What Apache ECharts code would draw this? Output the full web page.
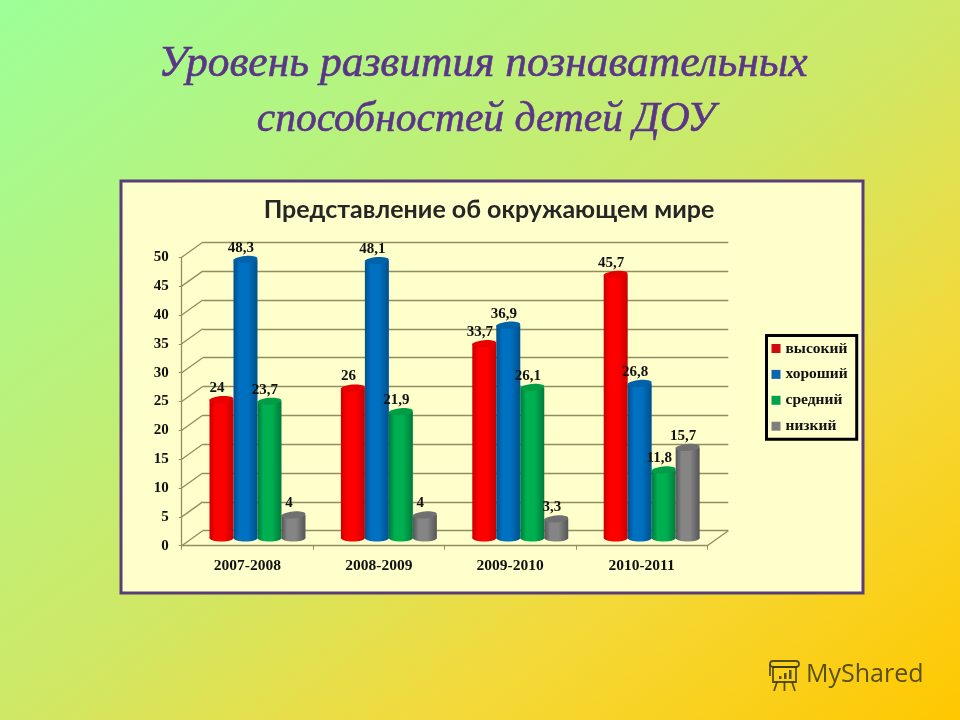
<!DOCTYPE html>
<html><head><meta charset="utf-8">
<style>html,body{margin:0;padding:0;background:#fff}#c{width:960px;height:720px}</style>
<script src="https://cdn.jsdelivr.net/npm/echarts@6/dist/echarts.min.js"></script>
</head><body><div id="c"></div>
<script>
const categories = ['2007-2008','2008-2009','2009-2010','2010-2011'];
const seriesNames = ['высокий','хороший','средний','низкий'];
const high = [24,26,33.7,45.7];
const good = [48.3,48.1,36.9,26.8];
const medium = [23.7,21.9,26.1,11.8];
const low = [4,4,3.3,15.7];
const yTicks = [0,5,10,15,20,25,30,35,40,45,50];
const titleLine1 = 'Уровень развития познавательных';
const titleLine2 = 'способностей детей ДОУ';
const chartTitle = 'Представление об окружающем мире';
const watermark = 'MyShared';

const values = [high,good,medium,low];
const palette = [
  {edge:'#c80000',mid:'#ff0000',top:'#e60000',icon:'#d00a0a'},
  {edge:'#00508c',mid:'#0070c0',top:'#0062a8',icon:'#0a66b0'},
  {edge:'#007a3c',mid:'#00b050',top:'#009c46',icon:'#00a050'},
  {edge:'#555555',mid:'#858585',top:'#707070',icon:'#7f7f7f'}
];
const F = {l:181.7,w:525.6,t:257.3,b:545.7};
const DX = 21, DY = 15;
const mkGrid = (dx,dy)=>({left:F.l+dx,top:F.t-dy,width:F.w,height:F.b-F.t,containLabel:false});
const serif = '"Liberation Serif"';
const num = v => String(v).replace('.',',');
const lineColor = '#8f8d62';
const lineW = 1.3;

function cylinder(si){
  return function(params,api){
    const cat = api.value(0), v = api.value(1);
    const top = api.coord([cat,v]), bot = api.coord([cat,0]);
    const band = api.size([1,0])[0];
    const bw = band*0.1826;
    const cx = top[0] + (si-1.5)*bw;
    const rx = bw/2, ry = 3.5;
    const c = palette[si];
    const grad = () => new echarts.graphic.LinearGradient(0,0,1,0,[
      {offset:0,color:c.edge},{offset:.25,color:c.mid},{offset:.6,color:c.mid},{offset:1,color:c.edge}]);
    return {type:'group',children:[
      {type:'ellipse',shape:{cx:cx,cy:bot[1],rx:rx,ry:ry},style:{fill:grad()}},
      {type:'rect',shape:{x:cx-rx,y:top[1],width:bw,height:bot[1]-top[1]},style:{fill:grad()}},
      {type:'ellipse',shape:{cx:0,cy:0,rx:rx,ry:ry},x:cx,y:top[1],rotation:0.08,style:{fill:c.top}},
      {type:'text',z2:100,x:cx-4.5,y:top[1]-11.5,style:{text:num(v),font:'bold 15px '+serif,fill:'#111',align:'center',verticalAlign:'middle'}}
    ]};
  };
}
function wallLines(params,api){
  const p = api.coord([0,api.value(0)]);
  const xs = p[0]-api.size([1,0])[0]/2;
  return {type:'line',shape:{x1:xs,y1:p[1],x2:xs+DX,y2:p[1]-DY},style:{stroke:lineColor,lineWidth:lineW}};
}
function floorLine(params,api){
  const p = api.coord([categories.length-1,0]);
  const right = p[0]+api.size([1,0])[0]/2;
  return {type:'line',shape:{x1:right,y1:p[1],x2:right+DX,y2:p[1]-DY},style:{stroke:lineColor,lineWidth:lineW}};
}
const ink = 'rgba(60,56,16,.85)';
const inkStroke = {fill:null,stroke:ink,lineWidth:1.8};
const seg = (x1,y1,x2,y2)=>({type:'line',shape:{x1,y1,x2,y2},style:inkStroke});
const logo = {type:'group',z:-5,silent:true,x:768,y:658,children:[
  {type:'rect',shape:{x:2,y:3,width:29,height:6,r:3},style:inkStroke},
  {type:'rect',shape:{x:5,y:9,width:23,height:15},style:inkStroke},
  seg(2,6,2,18), seg(9,24,6,33), seg(16.5,24,16.5,33), seg(24,24,27,33),
  {type:'rect',shape:{x:11,y:18,width:2.5,height:3},style:{fill:ink}},
  {type:'rect',shape:{x:16,y:15,width:2.5,height:6},style:{fill:ink}},
  {type:'rect',shape:{x:21,y:12,width:2.5,height:9},style:{fill:ink}}
]};
const titleStyle = size => ({fontFamily:serif,fontStyle:'italic',fontWeight:'normal',fontSize:size,color:'#5b3688',textBorderColor:'#5b3688',textBorderWidth:0.6});
const option = {
  animation:false,
  backgroundColor:new echarts.graphic.LinearGradient(0,0,0.72,1.28,[
    {offset:0,color:'#9cff98'},{offset:.5,color:'#cfe866'},{offset:.72,color:'#f3da3c'},{offset:1,color:'#ffc800'}]),
  title:[
    {text:titleLine1,left:478,top:38,textAlign:'center',textStyle:titleStyle(43.5)},
    {text:titleLine2,left:481,top:95,textAlign:'center',textStyle:titleStyle(41.5)},
    {text:chartTitle,left:484,top:192,textAlign:'center',textStyle:{fontFamily:'Lato,"Open Sans"',fontWeight:'bold',fontSize:25,color:'#262626'}}
  ],
  graphic:[
    {type:'rect',z:-10,silent:true,shape:{x:121,y:181,width:742,height:412},style:{fill:'#ffffcc',stroke:'#5a3d78',lineWidth:3}},
    {type:'text',z:-5,silent:true,x:806,y:662,style:{text:watermark,font:'25px "Open Sans"',fill:ink}},
    logo
  ],
  legend:{
    data:seriesNames.map((n,i)=>({name:n,icon:'rect',itemStyle:{color:palette[i].icon}})),
    orient:'vertical',left:766.5,top:335.5,padding:[5,9,5,5],itemWidth:9,itemHeight:9,itemGap:9.9,
    borderColor:'#000',borderWidth:3,backgroundColor:'#ffffcc',
    textStyle:{fontFamily:serif,fontWeight:'bold',fontSize:15.5,color:'#111',padding:[0,0,0,0]}
  },
  grid:[mkGrid(0,0),mkGrid(DX,DY),mkGrid(DX*0.48,7.7)],
  xAxis:[
    {type:'category',gridIndex:0,data:categories,axisLine:{lineStyle:{color:lineColor,width:lineW}},axisTick:{show:true,alignWithLabel:false,length:4,lineStyle:{color:lineColor}},axisLabel:{fontFamily:serif,fontWeight:'bold',fontSize:15.5,color:'#111',margin:12,interval:0}},
    {type:'category',gridIndex:1,data:categories,show:false},
    {type:'category',gridIndex:2,data:categories,show:false}
  ],
  yAxis:[
    {type:'value',gridIndex:0,min:0,max:50,interval:5,axisLine:{show:true,lineStyle:{color:lineColor,width:lineW}},axisTick:{show:true,length:3,lineStyle:{color:lineColor}},splitLine:{show:false},axisLabel:{fontFamily:serif,fontWeight:'bold',fontSize:15,color:'#111',margin:13}},
    {type:'value',gridIndex:1,min:0,max:50,interval:5,axisLine:{show:false},axisTick:{show:false},axisLabel:{show:false},splitLine:{show:true,lineStyle:{color:lineColor,width:lineW}}},
    {type:'value',gridIndex:2,min:0,max:50,interval:5,show:false,splitLine:{show:false}}
  ],
  series:[
    {type:'custom',name:'wall',xAxisIndex:0,yAxisIndex:0,silent:true,z:1,renderItem:wallLines,data:yTicks.map(v=>[v])},
    {type:'custom',name:'floor',xAxisIndex:0,yAxisIndex:0,silent:true,z:1,renderItem:floorLine,data:[[0]]},
    ...seriesNames.map((n,i)=>({
      type:'custom',name:n,xAxisIndex:2,yAxisIndex:2,z:3,renderItem:cylinder(i),encode:{x:0,y:1},
      itemStyle:{color:palette[i].icon},
      data:values[i].map((v,j)=>[j,v])
    }))
  ]
};
const chart = echarts.init(document.getElementById('c'),null,{renderer:'canvas'});
chart.setOption(option);
</script></body></html>
